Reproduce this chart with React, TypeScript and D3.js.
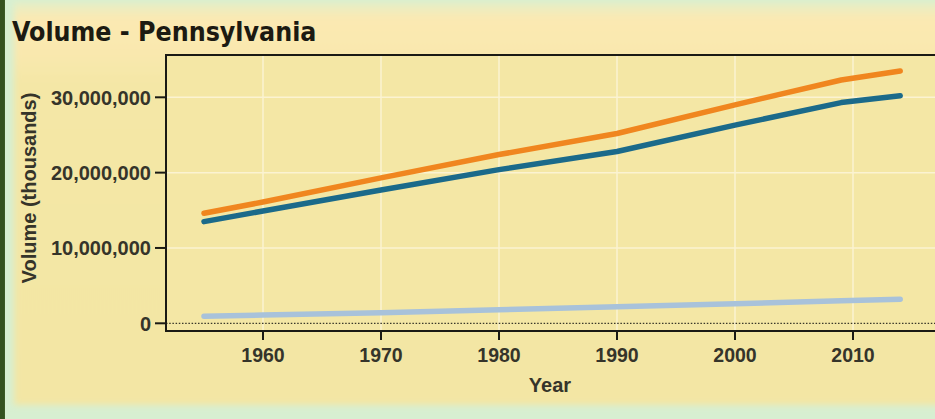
import React from "react";
import * as d3 from "d3";

const years = [1955, 1960, 1970, 1980, 1990, 2000, 2009, 2014];
const seriesTotal = [14.6e6, 16.1e6, 19.3e6, 22.4e6, 25.2e6, 29.0e6, 32.3e6, 33.5e6];
const seriesMain = [13.5e6, 14.9e6, 17.7e6, 20.4e6, 22.8e6, 26.3e6, 29.3e6, 30.2e6];
const seriesMinor = [0.95e6, 1.1e6, 1.4e6, 1.8e6, 2.2e6, 2.6e6, 3.0e6, 3.2e6];
const xTicks = [1960, 1970, 1980, 1990, 2000, 2010];
const yTicks = [0, 10e6, 20e6, 30e6];
const seriesColors = ["#f0861f", "#1b6a8a", "#a8c2da"];

const W = 935;
const H = 419;
const plotLeft = 166;
const plotTop = 55;
const plotBottom = 331;
const plotRight = 960;

export default function App() {
  const x = d3.scaleLinear().domain([1960, 2010]).range([263, 853]);
  const y = d3.scaleLinear().domain([0, 30e6]).range([323.3, 97.3]);
  const fmt = d3.format(",");
  const line = d3
    .line<number>()
    .x((_, i) => x(years[i]))
    .y((d) => y(d));
  const series = [seriesMinor, seriesMain, seriesTotal];
  const colorsOrdered = [seriesColors[2], seriesColors[1], seriesColors[0]];
  const font = "'Liberation Sans', Arial, sans-serif";

  return (
    <svg
      width={W}
      height={H}
      style={{ position: "absolute", left: 0, top: 0, display: "block" }}
    >
      <defs>
        <linearGradient id="panelGrad" x1="0" y1="0" x2="0" y2="1">
          <stop offset="0" stopColor="#e4efc8" />
          <stop offset="0.04" stopColor="#fbe9b2" />
          <stop offset="0.13" stopColor="#f9e8ae" />
          <stop offset="0.2" stopColor="#f4e7a6" />
          <stop offset="1" stopColor="#f3e6a4" />
        </linearGradient>
        <filter id="soft" x="-5%" y="-5%" width="110%" height="110%">
          <feGaussianBlur stdDeviation="3" />
        </filter>
      </defs>
      <rect x={0} y={0} width={W} height={H} fill="#d7efd1" />
      <rect x={0} y={0} width={5} height={H} fill="#3b5a25" />
      <rect
        x={14}
        y={2}
        width={W}
        height={403}
        fill="url(#panelGrad)"
        filter="url(#soft)"
      />
      <rect x={0} y={0} width={4} height={H} fill="#34521f" />

      <text
        x={12}
        y={41}
        fontFamily="'DejaVu Sans Condensed', 'DejaVu Sans', sans-serif"
        fontStretch="condensed"
        fontWeight="bold"
        fontSize={26.5}
        fill="#1c1a12"
      >
        Volume - Pennsylvania
      </text>

      <rect
        x={plotLeft}
        y={plotTop}
        width={plotRight - plotLeft}
        height={plotBottom - plotTop}
        fill="#f4e7a5"
      />
      {xTicks.map((t) => (
        <line
          key={"gx" + t}
          x1={x(t)}
          x2={x(t)}
          y1={plotTop}
          y2={plotBottom}
          stroke="#fbf3d2"
          strokeWidth={1.5}
        />
      ))}
      {yTicks.slice(1).map((t) => (
        <line
          key={"gy" + t}
          x1={plotLeft}
          x2={plotRight}
          y1={y(t)}
          y2={y(t)}
          stroke="#fbf3d2"
          strokeWidth={1.5}
        />
      ))}
      <line
        x1={plotLeft}
        x2={plotRight}
        y1={y(0)}
        y2={y(0)}
        stroke="#3a382a"
        strokeWidth={1.3}
        strokeDasharray="1.5,1.7"
      />

      {series.map((s, i) => (
        <path
          key={"s" + i}
          d={line(s) || ""}
          fill="none"
          stroke={colorsOrdered[i]}
          strokeWidth={5.5}
          strokeLinecap="round"
          strokeLinejoin="round"
        />
      ))}

      <path
        d={`M${plotRight},${plotTop}H${plotLeft}V${plotBottom}H${plotRight}`}
        fill="none"
        stroke="#1a1a14"
        strokeWidth={2}
      />

      {yTicks.map((t) => (
        <g key={"yt" + t}>
          <line
            x1={155}
            x2={plotLeft}
            y1={y(t)}
            y2={y(t)}
            stroke="#1a1a14"
            strokeWidth={2}
          />
          <text
            x={151}
            y={y(t)}
            dy="0.36em"
            textAnchor="end"
            fontFamily={font}
            fontWeight="bold"
            fontSize={20}
            fill="#35342a"
          >
            {fmt(t)}
          </text>
        </g>
      ))}
      {xTicks.map((t) => (
        <g key={"xt" + t}>
          <line
            x1={x(t)}
            x2={x(t)}
            y1={plotBottom}
            y2={plotBottom + 9}
            stroke="#1a1a14"
            strokeWidth={2}
          />
          <text
            x={x(t)}
            y={362}
            textAnchor="middle"
            fontFamily={font}
            fontWeight="bold"
            fontSize={19.5}
            fill="#35342a"
          >
            {t}
          </text>
        </g>
      ))}
      <text
        x={550}
        y={392}
        textAnchor="middle"
        fontFamily={font}
        fontWeight="bold"
        fontSize={20}
        fill="#35342a"
      >
        Year
      </text>
      <text
        transform={`translate(36,188) rotate(-90)`}
        textAnchor="middle"
        fontFamily={font}
        fontWeight="bold"
        fontSize={20}
        fill="#35342a"
      >
        Volume (thousands)
      </text>
    </svg>
  );
}
